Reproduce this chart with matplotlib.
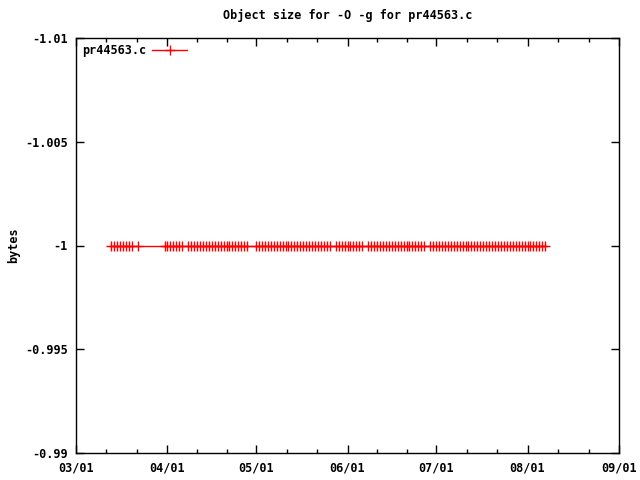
import numpy as np
import matplotlib
matplotlib.use("Agg")
import matplotlib.pyplot as plt
import pandas as pd

mar_days = [13, 14, 15, 16, 17, 18, 19, 20, 22, 31]
apr_days = [1, 2, 3, 4, 5, 6, 8, 9, 10, 11, 12, 13, 14, 15, 16, 17, 18, 19, 20,
            21, 22, 23, 24, 25, 26, 27, 28]
may_days = [1, 2, 3, 4, 5, 6, 7, 8, 9, 10, 11, 12, 13, 14, 15, 16, 17, 18, 19, 20,
            21, 22, 23, 24, 25, 26, 28, 29, 30, 31]
jun_days = [1, 2, 3, 4, 5, 6, 8, 9, 10, 11, 12, 13, 14, 15, 16, 17, 18, 19, 20,
            21, 22, 23, 24, 25, 26, 27, 29, 30]
jul_days = [1, 2, 3, 4, 5, 6, 7, 8, 9, 10, 11, 12, 13, 14, 15, 16, 17, 18, 19, 20,
            21, 22, 23, 24, 25, 26, 27, 28, 29, 30, 31]
aug_days = [1, 2, 3, 4, 5, 6, 7]

month_days = {3: mar_days, 4: apr_days, 5: may_days, 6: jun_days, 7: jul_days, 8: aug_days}
dates = [pd.Timestamp(2010, m, d) for m, days in month_days.items() for d in days]
sizes = [-1] * len(dates)

tick_months = [3, 4, 5, 6, 7, 8, 9]
y_ticks = [-1.01, -1.005, -1, -0.995, -0.99]
y_labels = ["-1.01", "-1.005", "-1", "-0.995", "-0.99"]

font = {"family": "DejaVu Sans Mono", "weight": "bold", "size": 8.5}

fig = plt.figure(figsize=(6.4, 4.8), dpi=100)
ax = fig.add_axes([76 / 640, 27 / 480, 543 / 640, 415 / 480])

ax.plot(dates, sizes, color="red", lw=1, marker="+", ms=6.5, mew=1, label="pr44563.c")

ax.set_xlim(pd.Timestamp(2010, 3, 1), pd.Timestamp(2010, 9, 1))
ax.set_ylim(-0.99, -1.01)

major = [pd.Timestamp(2010, m, 1) for m in tick_months]
ax.set_xticks(major)
ax.set_xticklabels([d.strftime("%m/%d") for d in major], fontdict=font)
minor = []
for a, b in zip(major[:-1], major[1:]):
    minor += [a + (b - a) / 3, a + 2 * (b - a) / 3]
ax.set_xticks(minor, minor=True)

ax.set_yticks(y_ticks)
ax.set_yticklabels(y_labels, fontdict=font)

ax.tick_params(which="major", direction="in", length=6, width=1, top=True, right=True)
ax.tick_params(which="minor", direction="in", length=3, width=1, top=True, right=True)
ax.tick_params(axis="x", pad=6)
ax.tick_params(axis="y", pad=6)
for s in ax.spines.values():
    s.set_linewidth(1)

ax.set_ylabel("bytes", fontdict=font)
ax.yaxis.set_label_coords(-(76 - 20) / 543, 0.5)
ax.set_title("Object size for -O -g for pr44563.c", fontdict=font, pad=14)

leg = ax.legend(loc="upper left", frameon=False, markerfirst=False, prop=font,
                handlelength=3, borderaxespad=0.1, handletextpad=0.5)

fig.savefig("out.png", dpi=100)
